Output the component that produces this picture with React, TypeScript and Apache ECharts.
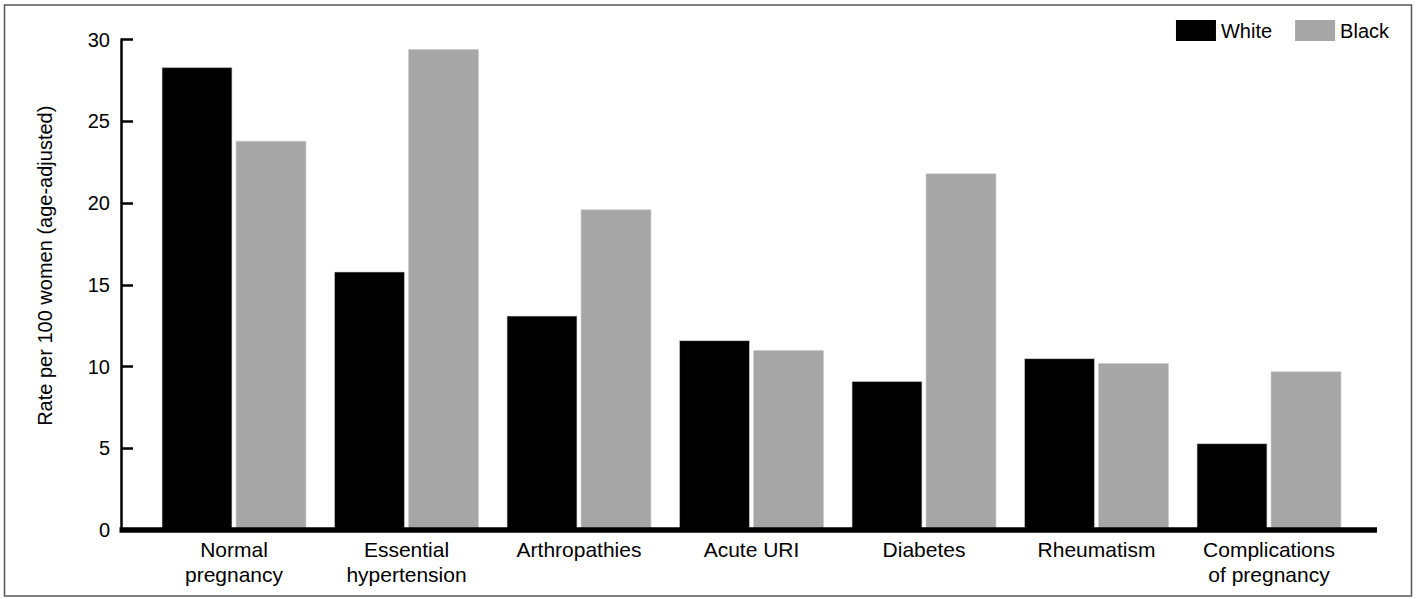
import React, { useEffect, useRef } from "react";
import * as echarts from "echarts";

const categories = [
  "Normal\npregnancy",
  "Essential\nhypertension",
  "Arthropathies",
  "Acute URI",
  "Diabetes",
  "Rheumatism",
  "Complications\nof pregnancy",
];
const whiteRates = [28.3, 15.8, 13.1, 11.6, 9.1, 10.5, 5.3];
const blackRates = [23.8, 29.4, 19.6, 11.0, 21.8, 10.2, 9.7];
const seriesNames = ["White", "Black"];
const yTicks = { min: 0, max: 30, interval: 5 };

export default function App() {
  const ref = useRef<HTMLDivElement>(null);
  useEffect(() => {
    if (!ref.current) return;
    const chart = echarts.init(ref.current, null, { renderer: "svg" });
    const font = "'Liberation Sans', Arial, Helvetica, sans-serif";
    chart.setOption({
      animation: false,
      backgroundColor: "#ffffff",
      textStyle: { fontFamily: font, color: "#000" },
      grid: { left: 147.75, right: 63.75, top: 39.5, bottom: 69, containLabel: false },
      legend: {
        data: seriesNames,
        right: 30,
        top: 20,
        padding: 0,
        itemWidth: 40,
        itemHeight: 21,
        itemGap: 23,
        icon: "rect",
        itemStyle: { borderWidth: 0 },
        textStyle: { fontSize: 20, color: "#000", fontFamily: font },
      },
      xAxis: {
        type: "category",
        data: categories,
        axisLine: { show: false },
        axisTick: { show: false },
        axisLabel: {
          fontSize: 21,
          lineHeight: 25,
          color: "#000",
          margin: 7,
          fontFamily: font,
          interval: 0,
        },
      },
      yAxis: {
        type: "value",
        min: yTicks.min,
        max: yTicks.max,
        interval: yTicks.interval,
        offset: 26.75,
        name: "Rate per 100 women (age-adjusted)",
        nameLocation: "middle",
        nameRotate: 90,
        nameGap: 66,
        nameTextStyle: { fontSize: 20, color: "#000", fontFamily: font, padding: [0, 0, 0, 38] },
        axisLine: { show: true, lineStyle: { color: "#000", width: 2.5 } },
        axisTick: { show: true, inside: true, length: 12, lineStyle: { color: "#000", width: 2.5 } },
        axisLabel: { fontSize: 20, color: "#000", margin: 11, fontFamily: font },
        splitLine: { show: false },
      },
      series: [
        {
          name: seriesNames[0],
          type: "bar",
          data: whiteRates,
          barWidth: 70.5,
          barGap: "5%",
          itemStyle: { color: "#000000", borderColor: "#d0d0d0", borderWidth: 0.6 },
        },
        {
          name: seriesNames[1],
          type: "bar",
          data: blackRates,
          barWidth: 70.5,
          barGap: "5%",
          itemStyle: { color: "#a6a6a6", borderColor: "#c8c8c8", borderWidth: 0.6 },
        },
      ],
      graphic: [
        {
          type: "rect",
          shape: { x: 4.5, y: 5, width: 1407, height: 591 },
          style: { fill: "none", stroke: "#555", lineWidth: 1.5 },
          silent: true,
        },
        {
          type: "line",
          shape: { x1: 119.5, y1: 530, x2: 1377, y2: 530 },
          style: { stroke: "#000", lineWidth: 5.5 },
          z: 100,
          silent: true,
        },
      ],
    });
    return () => chart.dispose();
  }, []);
  return (
    <div
      ref={ref}
      style={{ position: "fixed", left: 0, top: 0, width: 1419, height: 599 }}
    />
  );
}
